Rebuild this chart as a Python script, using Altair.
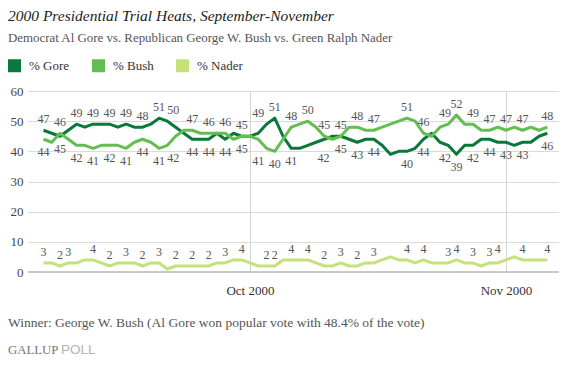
import altair as alt
import pandas as pd

# ---- data (daily tracking, Sept 6 - Nov 6, 2000) ----
dates = pd.date_range("2000-09-06", "2000-11-06", freq="D").strftime("%Y-%m-%d").tolist()

gore = [47, 46, 45, 47, 49, 48, 49, 49, 49, 48, 49, 48, 48, 49, 51, 50, 48, 46, 44, 44, 44, 46, 44, 46, 45,
        45, 46, 49, 51, 45, 41, 41, 42, 43, 44, 45, 45, 44, 43, 44, 44, 42, 39, 40, 40, 41, 44, 46, 43, 42,
        39, 42, 42, 44, 44, 43,
        43, 42, 43, 43, 45, 46]
bush = [44, 43, 46, 44, 42, 42, 41, 42, 42, 42, 41, 43, 44, 43, 41, 42, 45, 47, 47, 46, 46, 46, 46, 44, 45,
        45, 44, 41, 40, 44, 48, 49, 50, 48, 45, 44, 45, 48, 48, 47, 47, 48, 49, 50, 51, 50, 46, 45, 48, 49,
        52, 49, 49, 47, 47, 48,
        47, 48, 47, 48, 47, 48]
nader = [3, 3, 2, 3, 3, 4, 4, 3, 2, 3, 3, 3, 2, 3, 3, 1, 2, 2, 2, 2, 2, 3, 3, 4, 4,
         3, 2, 2, 2, 4, 4, 4, 4, 3, 2, 2, 3, 2, 2, 3, 3, 4, 5, 4, 4, 3, 4, 3, 3, 3,
         4, 3, 3, 2, 3, 3,
         4, 5, 4, 4, 4, 4]

common_label_dates = ["2000-09-06", "2000-09-08", "2000-09-10", "2000-09-12", "2000-09-14", "2000-09-16",
                      "2000-09-18", "2000-09-20", "2000-09-21", "2000-09-24", "2000-09-26", "2000-09-28",
                      "2000-09-30", "2000-10-03", "2000-10-04", "2000-10-06", "2000-10-08", "2000-10-12",
                      "2000-10-14", "2000-10-16", "2000-10-20", "2000-10-22", "2000-10-25", "2000-10-26",
                      "2000-10-28", "2000-10-30", "2000-11-01", "2000-11-03", "2000-11-06"]
gore_label_dates = common_label_dates
bush_label_dates = common_label_dates + ["2000-10-10"]
nader_label_dates = ["2000-09-06", "2000-09-08", "2000-09-09", "2000-09-12", "2000-09-14", "2000-09-16",
                     "2000-09-18", "2000-09-20", "2000-09-22", "2000-09-24", "2000-09-26", "2000-09-28",
                     "2000-09-30", "2000-10-03", "2000-10-04", "2000-10-06", "2000-10-08", "2000-10-10",
                     "2000-10-12", "2000-10-14", "2000-10-16", "2000-10-20", "2000-10-22", "2000-10-25",
                     "2000-10-26", "2000-10-28", "2000-10-30", "2000-11-01", "2000-11-03", "2000-11-06"]

series_names = ["% Gore", "% Bush", "% Nader"]
colors = ["#08793a", "#63be51", "#c4e27a"]

title_text = "2000 Presidential Trial Heats, September-November"
subtitle_text = "Democrat Al Gore vs. Republican George W. Bush vs. Green Ralph Nader"
footer_text = "Winner: George W. Bush (Al Gore won popular vote with 48.4% of the vote)"

# label nudges (in days) to keep neighbouring labels apart, as in the original
label_nudge = {("% Gore", "2000-09-21"): 0.7, ("% Bush", "2000-09-21"): 0.7,
               ("% Gore", "2000-10-03"): -1.0, ("% Bush", "2000-10-03"): -1.0,
               ("% Gore", "2000-10-25"): -0.4, ("% Bush", "2000-10-25"): -0.4,
               ("% Gore", "2000-10-08"): 1.9, ("% Nader", "2000-11-01"): -1.0}

rows = []
for i, d in enumerate(dates):
    for name, vals, lab in (("% Gore", gore, gore_label_dates), ("% Bush", bush, bush_label_dates),
                            ("% Nader", nader, nader_label_dates)):
        v = vals[i]
        if name == "% Nader":
            pos = "above"
        elif name == "% Gore":
            pos = "above" if v > bush[i] else "below"
        else:
            pos = "above" if v >= gore[i] else "below"
        ld = pd.Timestamp(d) + pd.Timedelta(days=label_nudge.get((name, d), 0))
        rows.append({"date": d, "series": name, "value": v, "labeled": d in lab, "pos": pos,
                     "label_date": ld.strftime("%Y-%m-%dT%H:%M:%SZ"), "txt": str(v)})
df = pd.DataFrame(rows)

FONT = "Liberation Serif"

xscale = alt.Scale(type="utc", domain=[alt.DateTime(year=2000, month=9, date=4, hours=3, utc=True),
                                       alt.DateTime(year=2000, month=11, date=7, hours=10, utc=True)])
yscale = alt.Scale(domain=[0, 60], nice=False, zero=True)

x_axis = alt.Axis(values=[alt.DateTime(year=2000, month=10, date=1, utc=True),
                          alt.DateTime(year=2000, month=11, date=1, utc=True)],
                  format="%b %Y", grid=True, gridColor="#d4d4d4", domain=False, ticks=False,
                  labelPadding=12, labelFont=FONT, labelFontSize=13, labelColor="#333", title=None)
y_axis = alt.Axis(values=[0, 10, 20, 30, 40, 50, 60], grid=True, gridColor="#dadada", domain=False,
                  ticks=False, labelPadding=5, labelFont=FONT, labelFontSize=13, labelColor="#444",
                  title=None, labelOverlap=False)

base = alt.Chart(df)

zero_rule = base.mark_rule(color="#c9c9c9", strokeWidth=2).encode(
    y=alt.Y(datum=0, scale=yscale, axis=y_axis))

# line colours (same mapping as the legend; domain listed in another order so that the
# legend-less stroke scale is not merged with the legend's fill scale)
line_order = ["% Bush", "% Gore", "% Nader"]
line_colors = [colors[series_names.index(s)] for s in line_order]

lines = base.mark_line(strokeWidth=3, strokeJoin="round").encode(
    x=alt.X("date:T", scale=xscale, axis=x_axis),
    y=alt.Y("value:Q", scale=yscale, axis=y_axis),
    color=alt.Color("series:N", scale=alt.Scale(domain=line_order, range=line_colors), legend=None),
    detail="series:N",
)

legend_layer = alt.Chart(alt.Data(values=[{"series": s} for s in series_names])).mark_square(
    opacity=0, size=169).encode(
    fill=alt.Fill("series:N", scale=alt.Scale(domain=series_names, range=colors),
                  legend=alt.Legend(orient="none", legendX=-20, legendY=-32, direction="horizontal",
                                    title=None, symbolType="square", symbolSize=169,
                                    symbolStrokeWidth=0, symbolOpacity=1, labelFont=FONT,
                                    labelFontSize=13, labelColor="#333", labelOffset=8,
                                    columnPadding=22, padding=0, rowPadding=0))
)

lab_above = base.mark_text(font=FONT, fontSize=12, color="#555", baseline="middle", dy=-11).encode(
    x=alt.X("label_date:T", scale=xscale, axis=x_axis),
    y=alt.Y("value:Q", scale=yscale, axis=y_axis), text="txt:N"
).transform_filter("datum.labeled && datum.pos == 'above'")

lab_below = base.mark_text(font=FONT, fontSize=12, color="#555", baseline="middle", dy=13).encode(
    x=alt.X("label_date:T", scale=xscale, axis=x_axis),
    y=alt.Y("value:Q", scale=yscale, axis=y_axis), text="txt:N"
).transform_filter("datum.labeled && datum.pos == 'below'")


def text_layer(text, x, y, size, color, font=FONT, style="normal"):
    return alt.Chart(alt.Data(values=[{"t": text}])).mark_text(
        align="left", baseline="alphabetic", font=font, fontSize=size, fontStyle=style, color=color
    ).encode(x=alt.value(x), y=alt.value(y), text="t:N")


title = text_layer(title_text, -20, -70.5, 15.5, "#222", style="italic")
subtitle = text_layer(subtitle_text, -20, -49.5, 12.9, "#555")
footer = text_layer(footer_text, -20, 236, 13.5, "#555")
gallup = text_layer("GALLUP", -20, 263, 12.8, "#777")
poll = text_layer("POLL", 33, 263, 13.5, "#b5b5b5", font="Liberation Sans")

chart = alt.layer(zero_rule, lines, lab_above, lab_below, legend_layer,
                  title, subtitle, footer, gallup, poll).properties(
    width=531, height=181,
    autosize=alt.AutoSizeParams(type="none"),
    padding={"left": 20, "top": 83, "right": 0, "bottom": 88},
).configure_view(stroke=None)

chart.save("out.html", embed_options={"renderer": "svg", "actions": False})
